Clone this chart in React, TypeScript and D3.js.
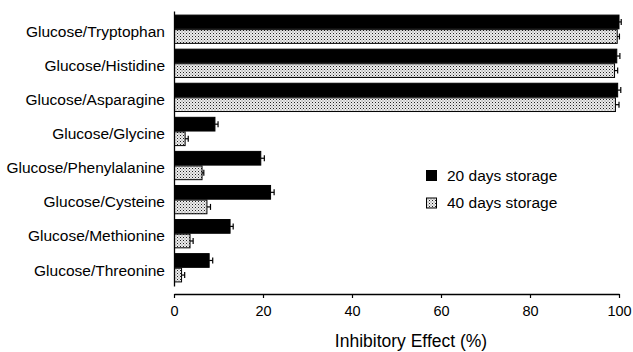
import { useRef, useEffect } from 'react';
import * as d3 from 'd3';

const WIDTH = 633;
const HEIGHT = 352;
const MARGIN = { top: 12, right: 14, bottom: 58, left: 174 };

const CATEGORIES = [
  'Glucose/Tryptophan',
  'Glucose/Histidine',
  'Glucose/Asparagine',
  'Glucose/Glycine',
  'Glucose/Phenylalanine',
  'Glucose/Cysteine',
  'Glucose/Methionine',
  'Glucose/Threonine',
];
const SERIES = ['20 days storage', '40 days storage'];

// (% inhibition)
const DAYS20 = [100, 99.5, 99.7, 9.2, 19.5, 21.7, 12.6, 7.9];
const DAYS20_ERR = [0.5, 0.7, 0.7, 0.7, 0.8, 0.8, 0.7, 0.8];
const DAYS40 = [99.6, 99.0, 99.2, 2.5, 6.3, 7.4, 3.6, 1.7];
const DAYS40_ERR = [0.5, 0.7, 0.8, 0.7, 0.4, 0.8, 0.7, 0.7];

const X_TICKS = [0, 20, 40, 60, 80, 100];
const FONT = '"Liberation Sans", Arial, Helvetica, sans-serif';

interface Row {
  cat: string;
  series: string;
  value: number;
  err: number;
}

const rows: Row[] = CATEGORIES.flatMap((cat, i) => [
  { cat, series: SERIES[0], value: DAYS20[i], err: DAYS20_ERR[i] },
  { cat, series: SERIES[1], value: DAYS40[i], err: DAYS40_ERR[i] },
]);

export default function App() {
  const svgRef = useRef<SVGSVGElement>(null);

  useEffect(() => {
    if (!svgRef.current) return;
    const svg = d3.select(svgRef.current);
    svg.selectAll('*').remove();

    const innerH = HEIGHT - MARGIN.top - MARGIN.bottom;

    // ── dotted fill for the 40 day series ───────────────────────────────────
    const pat = svg
      .append('defs')
      .append('pattern')
      .attr('id', 'dots')
      .attr('patternUnits', 'userSpaceOnUse')
      .attr('width', 3)
      .attr('height', 3);
    pat.append('rect').attr('width', 3).attr('height', 3).attr('fill', '#ececec');
    pat.append('rect').attr('width', 1).attr('height', 1).attr('fill', '#222');
    pat.append('rect').attr('x', 1.5).attr('y', 1.5).attr('width', 1).attr('height', 1).attr('fill', '#777');

    const g = svg.append('g').attr('transform', `translate(${MARGIN.left},${MARGIN.top})`);

    // ── Scales ──────────────────────────────────────────────────────────────
    const x = d3.scaleLinear().domain([0, 100]).range([0, 445]);

    const y = d3
      .scaleBand<string>()
      .domain(CATEGORIES)
      .range([-1, innerH - 8])
      .paddingInner(0.17)
      .paddingOuter(0.12);

    const ySub = d3
      .scaleBand<string>()
      .domain(SERIES)
      .range([0, y.bandwidth()])
      .paddingInner(0.06);

    const color = d3.scaleOrdinal<string, string>().domain(SERIES).range(['#000', 'url(#dots)']);

    // ── Bars ────────────────────────────────────────────────────────────────
    g.append('g')
      .selectAll('rect')
      .data(rows)
      .join('rect')
      .attr('x', 0.5)
      .attr('y', (d) => y(d.cat)! + ySub(d.series)!)
      .attr('width', (d) => Math.max(0, x(d.value) - 0.5))
      .attr('height', ySub.bandwidth())
      .attr('fill', (d) => color(d.series))
      .attr('stroke', '#000')
      .attr('stroke-width', 1);

    // ── Error bars (positive side only) ─────────────────────────────────────
    const eb = g
      .append('g')
      .attr('stroke', '#000')
      .attr('stroke-width', 1.2)
      .selectAll('g')
      .data(rows)
      .join('g')
      .attr('transform', (d) => `translate(0,${y(d.cat)! + ySub(d.series)! + ySub.bandwidth() / 2})`);

    eb.append('line')
      .attr('x1', (d) => x(d.value))
      .attr('x2', (d) => x(d.value + d.err))
      .attr('y1', 0)
      .attr('y2', 0);

    eb.append('line')
      .attr('x1', (d) => x(d.value + d.err))
      .attr('x2', (d) => x(d.value + d.err))
      .attr('y1', -3)
      .attr('y2', 3);

    // ── X axis ──────────────────────────────────────────────────────────────
    const xAxis = g
      .append('g')
      .attr('transform', `translate(0,${innerH})`)
      .call(d3.axisBottom(x).tickValues(X_TICKS).tickSize(4).tickSizeOuter(0).tickPadding(8));
    xAxis.select('.domain').attr('stroke-width', 1.3);
    xAxis.selectAll('.tick line').attr('stroke-width', 1.2);
    xAxis
      .selectAll('text')
      .attr('font-family', FONT)
      .attr('font-size', '14.5px')
      .attr('fill', '#000');

    // ── Y axis: just the spine plus labels ──────────────────────────────────
    const yAxis = g.append('g').call(d3.axisLeft(y).tickSize(0).tickPadding(9));
    yAxis.select('.domain').attr('stroke-width', 1.3);
    yAxis
      .selectAll('text')
      .attr('font-family', FONT)
      .attr('font-size', '15.5px')
      .attr('fill', '#000')
      .attr('dy', '0.5em');

    // axis title
    svg
      .append('text')
      .attr('x', 411)
      .attr('y', 347)
      .attr('text-anchor', 'middle')
      .attr('font-family', FONT)
      .attr('font-size', '17.5px')
      .attr('fill', '#000')
      .text('Inhibitory Effect (%)');

    // ── Legend ──────────────────────────────────────────────────────────────
    const legend = svg
      .append('g')
      .attr('transform', 'translate(426,170)')
      .selectAll('g')
      .data(SERIES)
      .join('g')
      .attr('transform', (_, i) => `translate(0,${i * 27})`);

    legend
      .append('rect')
      .attr('x', (_, i) => (i === 0 ? 0 : 0.5))
      .attr('y', (_, i) => (i === 0 ? 0 : 1))
      .attr('width', (_, i) => (i === 0 ? 11 : 10))
      .attr('height', (_, i) => (i === 0 ? 11 : 10))
      .attr('fill', (d) => color(d))
      .attr('stroke', '#000')
      .attr('stroke-width', (_, i) => (i === 0 ? 0 : 1));

    legend
      .append('text')
      .attr('x', 21)
      .attr('y', 6)
      .attr('dy', '0.35em')
      .attr('font-family', FONT)
      .attr('font-size', '15.5px')
      .attr('fill', '#000')
      .text((d) => d);
  }, []);

  return (
    <svg
      ref={svgRef}
      width={WIDTH}
      height={HEIGHT}
      viewBox={`0 0 ${WIDTH} ${HEIGHT}`}
      style={{ position: 'absolute', left: 0, top: 0, background: '#fff' }}
    />
  );
}
